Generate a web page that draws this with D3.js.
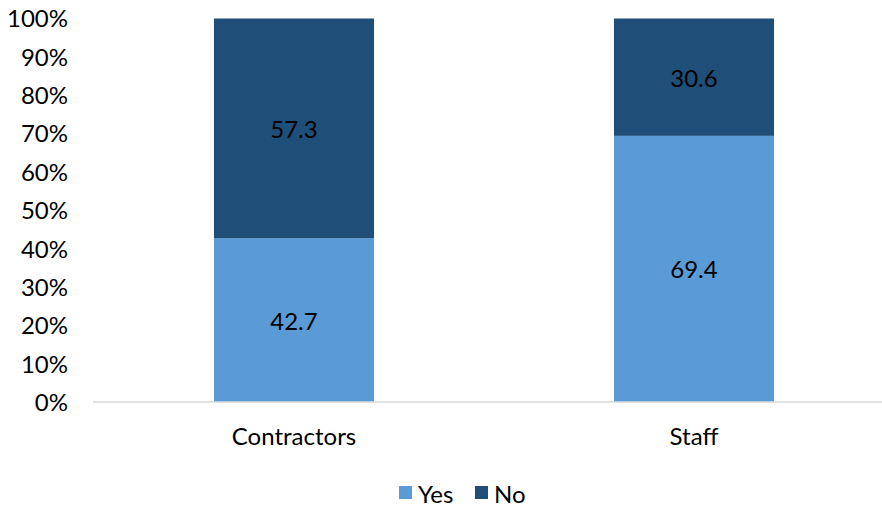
<!DOCTYPE html>
<html><head><meta charset="utf-8">
<script src="https://cdn.jsdelivr.net/npm/d3@7"></script>
<style>body{margin:0;background:#fff}svg text{font-family:Lato,"Noto Sans",sans-serif;fill:#000}</style>
</head><body><svg id="c" width="882" height="506"></svg>
<script>
const categories = ["Contractors", "Staff"];
const yesValues = [42.7, 69.4];
const noValues = [57.3, 30.6];
const seriesNames = ["Yes", "No"];
const seriesColors = ["#5B9BD5", "#1F4E79"];
const yTicks = [0, 10, 20, 30, 40, 50, 60, 70, 80, 90, 100];

const FS = "24px";
const svg = d3.select("#c");
const x = d3.scaleBand().domain(categories).range([94, 894]).paddingInner(0.6).paddingOuter(0.3);
const y = d3.scaleLinear().domain([0, 100]).range([402, 18.5]);

const data = categories.map((c, i) => ({cat: c, Yes: yesValues[i], No: noValues[i]}));
const stack = d3.stack().keys(seriesNames)(data);

svg.append("g").selectAll("g").data(stack).join("g")
  .attr("fill", (d, i) => seriesColors[i])
  .selectAll("rect").data(d => d).join("rect")
  .attr("x", d => x(d.data.cat))
  .attr("width", x.bandwidth())
  .attr("y", d => y(d[1]))
  .attr("height", d => y(d[0]) - y(d[1]));

// value labels
svg.append("g").selectAll("g").data(stack).join("g")
  .selectAll("text").data(d => d.map(v => ({v, key: d.key}))).join("text")
  .attr("x", d => x(d.v.data.cat) + x.bandwidth() / 2)
  .attr("y", d => y((d.v[0] + d.v[1]) / 2))
  .attr("text-anchor", "middle").attr("dominant-baseline", "central")
  .style("font-size", FS)
  .text(d => d.v.data[d.key].toFixed(1));

// axis line
svg.append("line").attr("x1", 93).attr("x2", 882).attr("y1", y(0)).attr("y2", y(0))
  .attr("stroke", "#D9D9D9").attr("stroke-width", 1.5);

// y tick labels
const yAxis = d3.axisLeft(y).tickValues(yTicks).tickFormat(d => d + "%").tickSize(0).tickPadding(0);
const ga = svg.append("g").attr("transform", "translate(68,0)").call(yAxis);
ga.select(".domain").remove();
ga.selectAll("text").style("font-size", FS).attr("font-family", null).attr("dy", "0.35em");

// x labels
const xAxis = d3.axisBottom(x).tickSize(0).tickPadding(0);
const gx = svg.append("g").attr("transform", "translate(0,437)").call(xAxis);
gx.select(".domain").remove();
gx.selectAll("text").style("font-size", FS).attr("font-family", null).attr("dy", "0.35em");

// legend
const legend = svg.append("g");
const legendX = [399, 475];
seriesNames.forEach((n, i) => {
  legend.append("rect").attr("x", legendX[i]).attr("y", 486).attr("width", 13).attr("height", 13).attr("fill", seriesColors[i]);
  legend.append("text").attr("x", legendX[i] + 19).attr("y", 493).attr("dominant-baseline", "central")
    .style("font-size", FS).text(n);
});
</script></body></html>
